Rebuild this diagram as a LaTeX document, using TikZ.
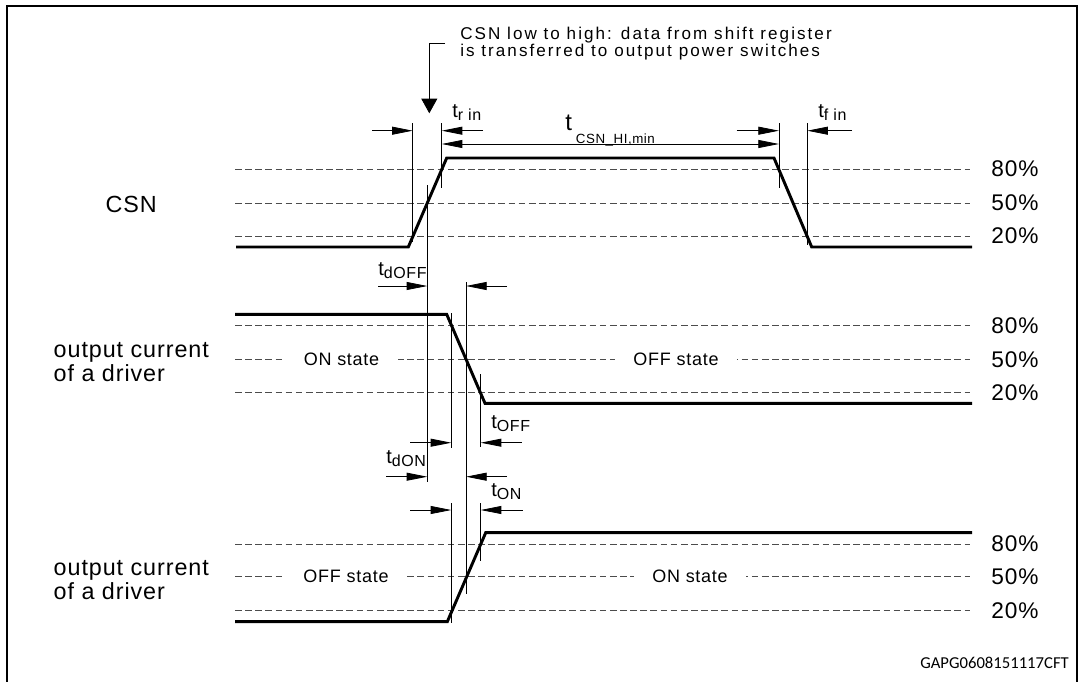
\documentclass[tikz,border=0pt]{standalone}
\usepackage{fontspec}
\setmainfont{Liberation Sans}[LetterSpace=4]
\newfontfamily\notefont{Liberation Sans}[LetterSpace=12]
\newfontfamily\codefont{Carlito}
\usetikzlibrary{arrows.meta}
\tikzset{>={Triangle[length=15.5pt,width=6pt]}}
\colorlet{background}{white}
\colorlet{penColor}{black}
\colorlet{levelColor}{black!70}
\tikzset{
  wave/.style={penColor, line width=2.2pt},
  markline/.style={penColor, line width=0.6pt},
  level/.style={levelColor, line width=0.6pt, dash pattern=on 5pt off 2.6pt},
  pct/.style={font=\fontsize{17}{17}\selectfont},
  side/.style={anchor=west, align=left, font=\fontsize{17.5}{18}\selectfont},
  state/.style={fill=background, inner xsep=14pt, inner ysep=1pt, font=\fontsize{13.5}{13.5}\selectfont},
  tlabel/.style={anchor=base west, inner sep=0pt, font=\fontsize{15}{15}\selectfont},
}
\newcommand{\tlab}[1]{t\raisebox{-0.3ex}{\fontsize{12}{12}\selectfont #1}}

\begin{document}
\begin{tikzpicture}[x=0.75pt,y=-0.75pt]
				\useasboundingbox (0,0) rectangle (1082,682);
				\draw[penColor, line width=1.5pt] (7.3,682) -- (7.3,6) -- (1077,6) -- (1077,682);
				% note on CSN edge
				\node[anchor=north west, align=left, inner sep=0pt, font=\notefont\fontsize{12.8}{10}\selectfont] (note) at (460,27) {CSN low to high: data from shift register\\is transferred to output power switches};
				\draw[markline, -{Triangle[length=11pt,width=12pt]}] (445,43) -- (429.3,43) -- (429.3,113.3);
				% CSN
				\draw[level] (235,169) -- (970,169);
				\draw[level] (235,203) -- (970,203);
				\draw[level] (235,236) -- (970,236);
				\draw[wave] (236,247) -- (408.3,247) -- (446.7,158) -- (774,158) -- (811.7,247) -- (972,247);
				\draw[markline] (412.7,123) -- (412.7,242);
				\draw[markline] (427.3,185) -- (427.3,482);
				\draw[markline] (441.7,123) -- (441.7,188);
				\draw[markline] (779,123) -- (779,188);
				\draw[markline] (807.3,123) -- (807.3,245);
				\draw[markline,->] (372,130.7) -- (412.7,130.7);
				\draw[markline,->] (483,130.7) -- (441.7,130.7);
				\draw[markline,->] (736.7,130.7) -- (779,130.7);
				\draw[markline,->] (852,130.7) -- (807.3,130.7);
				\draw[markline,<->] (441.7,144) -- (779,144);
				\node[tlabel] (trin) at (452,117) {\tlab{r in}};
				\node[tlabel] (tfin) at (818,117) {\tlab{f in}};
				\node[tlabel, font=\fontsize{18}{18}\selectfont] (tcsn) at (565,130) {t\hspace{3pt}\raisebox{-10pt}{\fontsize{10}{10}\selectfont CSN\_HI,min}};
				\node[side] (csn) at (101,204) {CSN};
				\node[pct] (csnhi) at (1015,169) {80\%};
				\node[pct] (csnmid) at (1015,203) {50\%};
				\node[pct] (csnlo) at (1015,236) {20\%};
				% output turning off
				\draw[level] (235,325.7) -- (970,325.7);
				\draw[level] (235,359.3) -- (970,359.3);
				\draw[level] (235,392.7) -- (970,392.7);
				\node[state] (onA) at (341.5,359.3) {ON state};
				\node[state] (offA) at (676,359.3) {OFF state};
				\draw[wave] (235,314.3) -- (446.7,314.3) -- (485,403.3) -- (972,403.3);
				\draw[markline] (451.3,313) -- (451.3,448);
				\draw[markline] (466,282) -- (466,594);
				\draw[markline] (480.7,374) -- (480.7,447);
				\draw[markline,->] (378,286) -- (427.3,286);
				\draw[markline,->] (507,286) -- (466,286);
				\draw[markline,->] (410,442.7) -- (451.3,442.7);
				\draw[markline,->] (521.7,442.7) -- (480.7,442.7);
				\node[tlabel] (tdoff) at (378,275) {\tlab{dOFF}};
				\node[tlabel] (toff) at (491,428) {\tlab{OFF}};
				\node[side] (drvA) at (49,362) {output current\\of a driver};
				\node[pct] (drvAhi) at (1015,325.7) {80\%};
				\node[pct] (drvAmid) at (1015,359.3) {50\%};
				\node[pct] (drvAlo) at (1015,392.7) {20\%};
				% output turning on
				\draw[markline,->] (386,476.7) -- (427.3,476.7);
				\draw[markline,->] (507,476.7) -- (466,476.7);
				\draw[markline,->] (410,510) -- (451.3,510);
				\draw[markline,->] (522.7,510) -- (480.7,510);
				\node[tlabel] (tdon) at (386,463) {\tlab{dON}};
				\node[tlabel] (ton) at (491,496) {\tlab{ON}};
				\draw[level] (235,544) -- (970,544);
				\draw[level] (235,576.7) -- (970,576.7);
				\draw[level] (235,610.7) -- (970,610.7);
				\node[state] (offB) at (346,576.7) {OFF state};
				\node[state] (onB) at (690,576.7) {ON state};
				\draw[wave] (235,621.7) -- (447.3,621.7) -- (485.7,532.7) -- (972,532.7);
				\draw[markline] (451.3,503) -- (451.3,622.7);
				\draw[markline] (480.7,503) -- (480.7,560.7);
				\node[side] (drvB) at (49,580) {output current\\of a driver};
				\node[pct] (drvBhi) at (1015,544) {80\%};
				\node[pct] (drvBmid) at (1015,576.7) {50\%};
				\node[pct] (drvBlo) at (1015,610.7) {20\%};
				\node[anchor=east, inner sep=0pt, font=\codefont\fontsize{12.5}{12.5}\selectfont] (code) at (1069,663) {GAPG0608151117CFT};
\end{tikzpicture}
\end{document}
